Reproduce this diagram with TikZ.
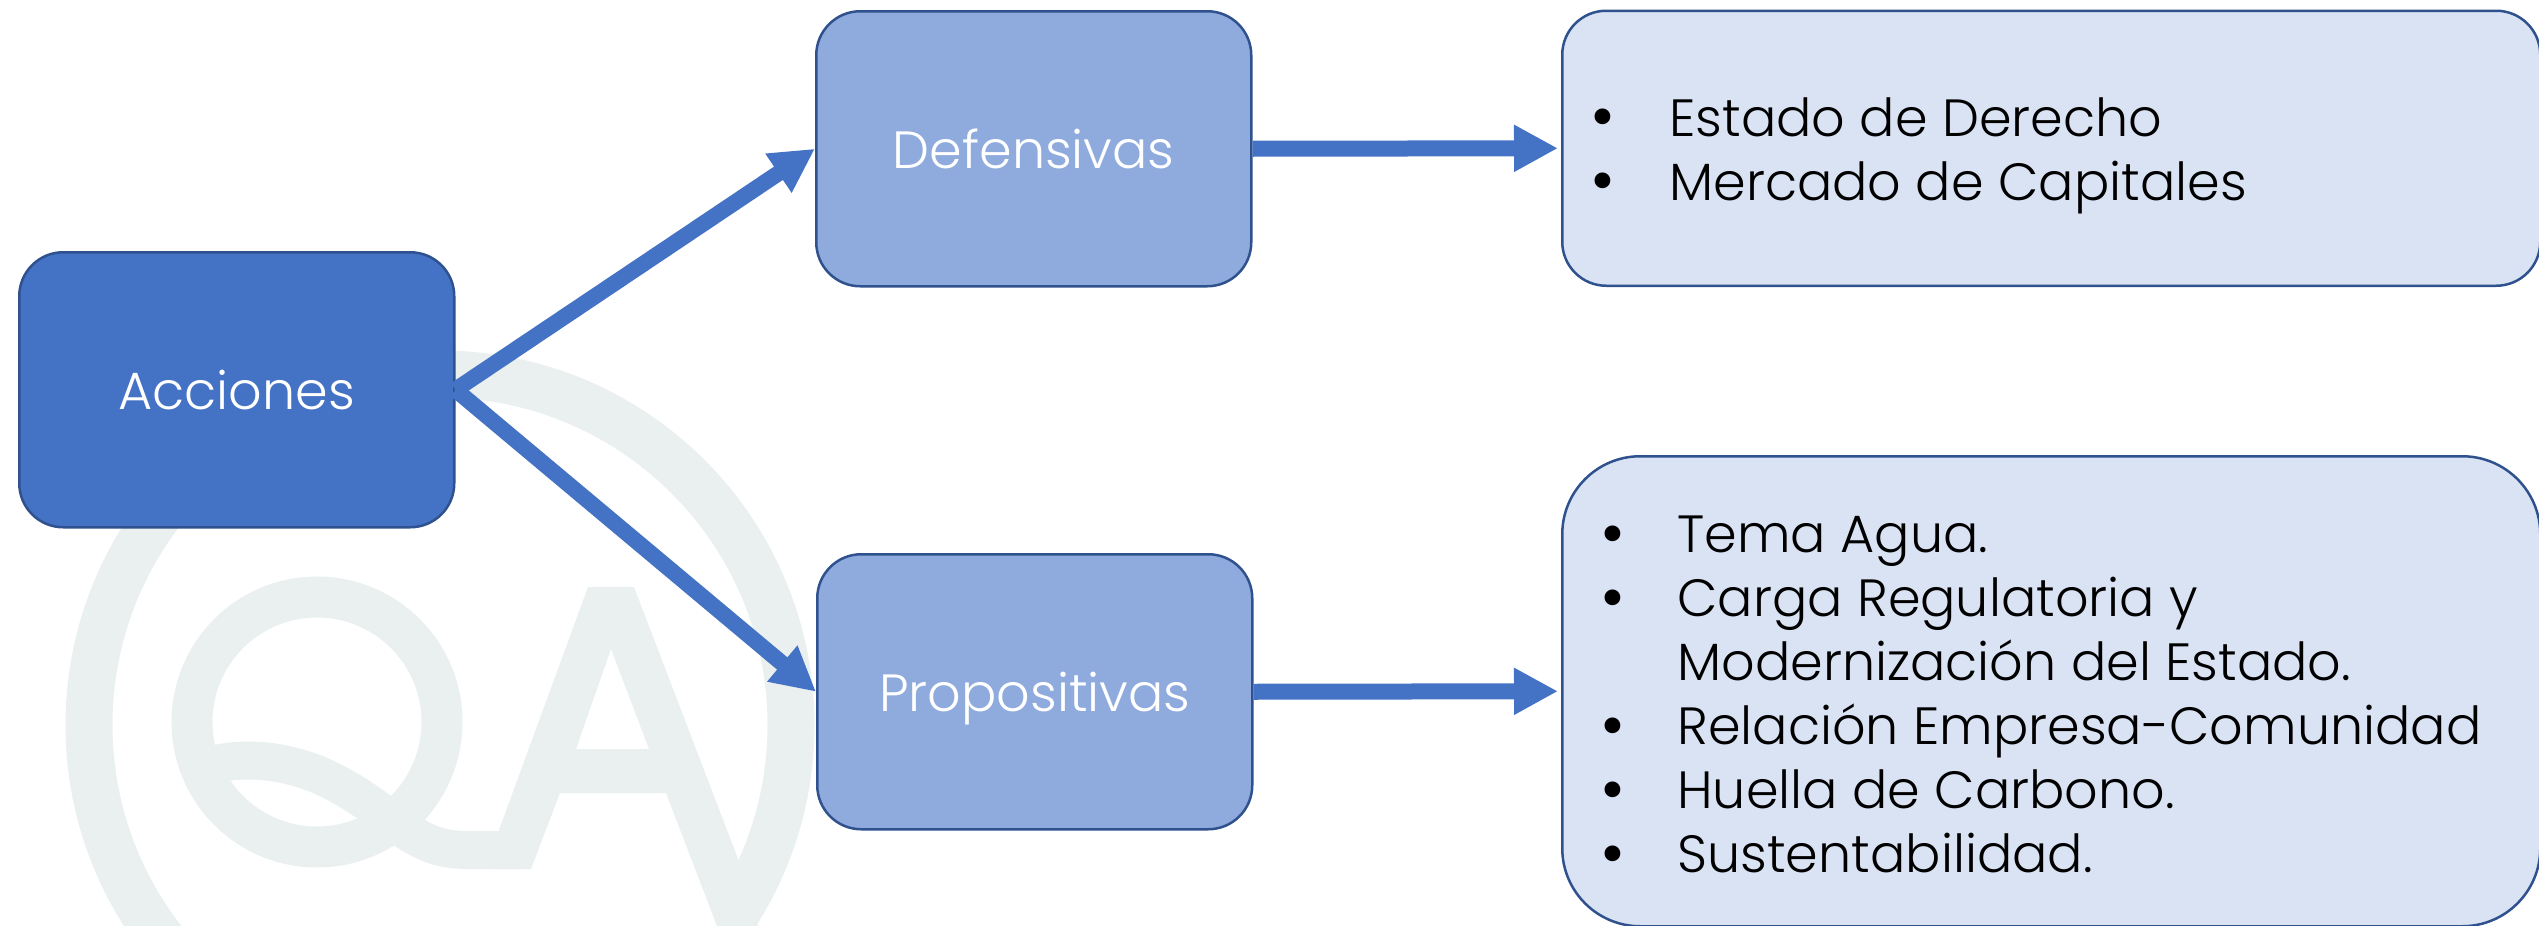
\documentclass[tikz,border=0pt]{standalone}
\usepackage{fontspec}
\setmainfont{Poppins Light}
\usetikzlibrary{arrows.meta}
\definecolor{wm}{HTML}{EAEFEF}
\definecolor{dkblue}{HTML}{4472C4}
\definecolor{edgeblue}{HTML}{2F528F}
\definecolor{midblue}{HTML}{8FAADC}
\definecolor{paleblue}{HTML}{DAE3F3}
\tikzset{
  x=0.5pt,y=-0.5pt,
  flowbox/.style={draw=edgeblue,line width=1.25pt,rounded corners=22pt,inner sep=0pt,anchor=north west,font=\fontsize{26.2}{30}\selectfont,text height=20pt,text depth=0pt},
  linkarrow/.style={draw=dkblue,line width=8pt,-{Triangle[length=22pt,width=22pt]}},
  listline/.style={anchor=base west,inner sep=0pt,font=\fontsize{26.2}{30}\selectfont},
  dotmark/.style={anchor=center,inner sep=0pt,font=\fontsize{34}{36}\selectfont},
}
\begin{document}
\begin{tikzpicture}
\useasboundingbox (0,0) rectangle (2539,926);
\clip (0,0) rectangle (2539,926);
% watermark
\draw[wm,line width=23.5pt] (440,725) circle[radius=351*0.5pt];
\draw[wm,line width=20.5pt] (317,722) circle[radius=125*0.5pt];
\draw[wm,line width=19pt] (198,770) .. controls (225,758) and (270,755) .. (319,775)
  .. controls (365,795) and (395,825) .. (413,835) .. controls (435,848) and (450,850) .. (470,850) -- (520,850);
\fill[white] (680,926) -- (717,926) -- (708,900) -- (680,900) -- cycle;
\fill[wm,even odd rule] (588,587) -- (634,587) -- (740,864) -- (758,926) -- (717,926) -- (666,793) -- (560,793) -- (531,869) -- (490,869) -- (499,830) -- cycle
  (611,649) -- (576,749) -- (649,749) -- cycle;
% boxes
\node[flowbox,fill=dkblue,text=white,minimum width=217.5pt,minimum height=137.5pt] (acc) at (18,251) {Acciones};
\node[flowbox,fill=midblue,text=white,minimum width=217.5pt,minimum height=137.5pt] (def) at (815,10) {Defensivas};
\node[flowbox,fill=midblue,text=white,minimum width=217.5pt,minimum height=137.5pt] (pro) at (816,553) {Propositivas};
\node[flowbox,fill=paleblue,minimum width=489pt,minimum height=137.5pt] (topbox) at (1561,9.5) {};
\node[flowbox,fill=paleblue,rounded corners=39pt,minimum width=489pt,minimum height=235pt] (lowbox) at (1561,455) {};
% connectors
\draw[linkarrow] (acc.east) -- (def.west);
\draw[linkarrow] (acc.east) -- (pro.west);
\draw[linkarrow,shorten >=1.5pt] (def.east) -- (topbox.west);
\draw[linkarrow,shorten >=1.5pt] (pro.east) -- (lowbox.west);
% lists
\node[dotmark] (b1) at (1603,124) {•};
\node[listline] (t1) at (1669,136) {Estado de Derecho};
\node[dotmark] (b2) at (1603,188) {•};
\node[listline] (t2) at (1669,200) {Mercado de Capitales};
\node[dotmark] (b3) at (1613,541) {•};
\node[listline] (t3) at (1677,552) {Tema Agua.};
\node[dotmark] (b4) at (1613,605) {•};
\node[listline] (t4) at (1677,616) {Carga Regulatoria y};
\node[listline] (t5) at (1677,680) {Modernización del Estado.};
\node[dotmark] (b6) at (1613,733) {•};
\node[listline] (t6) at (1677,744) {Relación Empresa-Comunidad};
\node[dotmark] (b7) at (1613,797) {•};
\node[listline] (t7) at (1677,808) {Huella de Carbono.};
\node[dotmark] (b8) at (1613,861) {•};
\node[listline] (t8) at (1677,872) {Sustentabilidad.};
\end{tikzpicture}
\end{document}
